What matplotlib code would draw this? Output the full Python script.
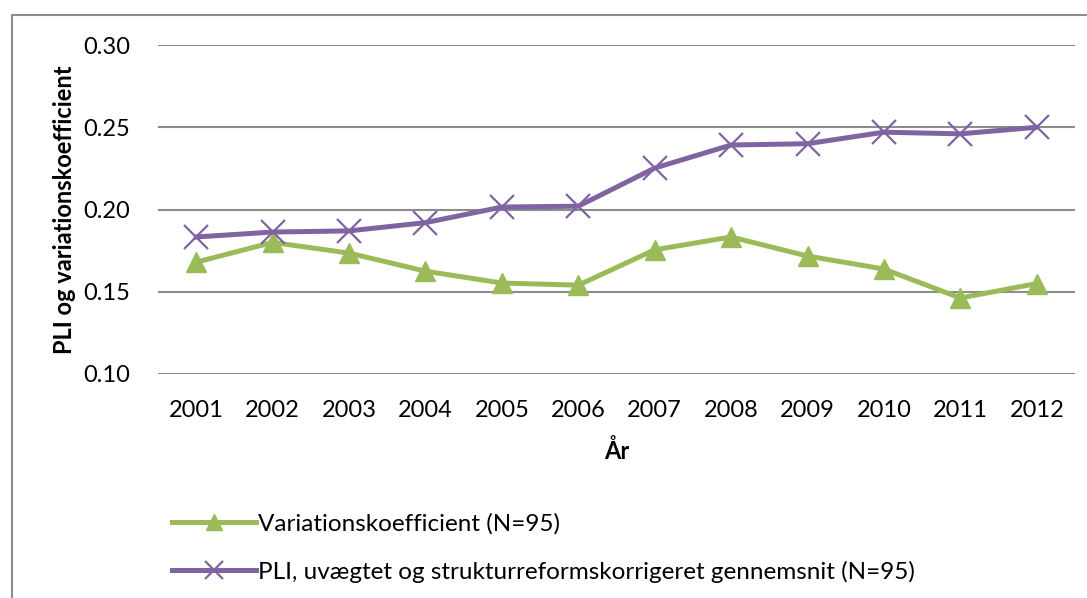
import matplotlib.pyplot as plt
from matplotlib.patches import Rectangle

years = ["2001", "2002", "2003", "2004", "2005", "2006",
         "2007", "2008", "2009", "2010", "2011", "2012"]
variation = [0.168, 0.180, 0.1735, 0.1625, 0.1553, 0.154,
             0.1755, 0.1833, 0.1717, 0.1638, 0.1462, 0.1550]
pli = [0.1833, 0.1863, 0.187, 0.192, 0.2015, 0.202,
       0.2252, 0.2392, 0.240, 0.247, 0.2460, 0.250]

plt.rcParams['font.family'] = ['Lato', 'DejaVu Sans']

fig = plt.figure(figsize=(10.87, 5.98), dpi=100)
ax = fig.add_axes([158/1087, 1-374/598, (1075-158)/1087, (374-45)/598])

x = range(len(years))
ax.plot(x, variation, color="#9BBB59", lw=3.6, marker="^", ms=14,
        label="Variationskoefficient (N=95)")
ax.plot(x, pli, color="#8064A2", lw=3.6, marker="x", ms=17, mew=1.6,
        label="PLI, uvægtet og strukturreformskorrigeret gennemsnit (N=95)")

ax.set_xlim(-0.5, len(years) - 0.5)
ax.set_ylim(0.10, 0.30)
ax.set_yticks([0.10, 0.15, 0.20, 0.25, 0.30])
ax.set_yticklabels(["0.10", "0.15", "0.20", "0.25", "0.30"])
ax.set_xticks(list(x))
ax.set_xticklabels(years)
ax.tick_params(length=0, labelsize=17, colors="black")
ax.tick_params(axis="x", pad=19)
ax.tick_params(axis="y", pad=20)
ax.yaxis.grid(True, color="#8c8c8c", lw=1.5)
ax.set_axisbelow(True)
for s in ax.spines.values():
    s.set_visible(False)

ax.set_xlabel("År", fontsize=17, fontweight="bold", labelpad=13)
ax.set_ylabel("PLI og variationskoefficient", fontsize=17, fontweight="bold", labelpad=5)

fig.legend(loc="upper left", bbox_to_anchor=(150/1087, 1-491/598), frameon=False,
           fontsize=17.5, handlelength=3.45, handletextpad=0.1, labelspacing=1.08,
           markerscale=0.8)

fig.patches.append(Rectangle((12/1087, -0.1), 1.2, 0.975 + 0.1, transform=fig.transFigure,
                             fill=False, edgecolor="#8c8c8c", lw=1.5))

fig.savefig("out.png", dpi=100)
